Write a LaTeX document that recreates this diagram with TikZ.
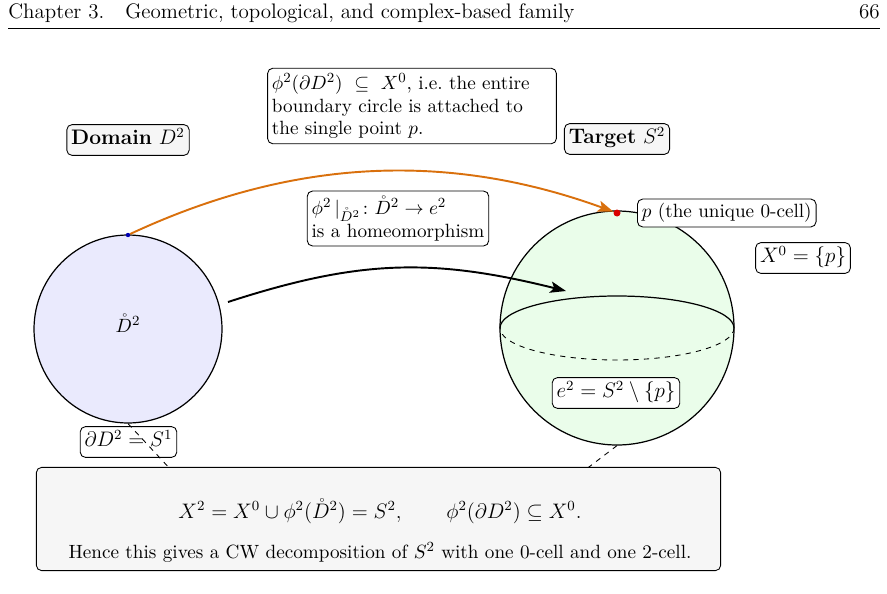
\documentclass[tikz,border=0pt]{standalone}
\usepackage{amsmath,amssymb}
\usetikzlibrary{arrows.meta,calc}
\definecolor{arcorange}{RGB}{217,112,13}
\definecolor{diskblue}{RGB}{234,234,253}
\definecolor{spheregreen}{RGB}{234,253,234}
\definecolor{boxgray}{RGB}{246,246,246}
\newcommand{\smallsz}{\fontsize{10.95}{12.9}\selectfont}
\newcommand{\bigsz}{\fontsize{12}{14.5}\selectfont}
\begin{document}
\begin{tikzpicture}[x=0.5714pt,y=-0.5714pt,
  lbl/.style={draw, rounded corners=3pt, fill=white, inner sep=2.5pt, line width=0.5pt, font=\smallsz},
  mlbl/.style={lbl, font=\bigsz, inner xsep=2.5pt, inner ysep=3pt, text height=8.6pt, text depth=3pt},
  ttl/.style={mlbl, fill=boxgray},
  shape outline/.style={draw, line width=0.7pt},
  tipstyle/.style={-{Stealth[length=9pt,width=6.5pt,inset=2pt]}},
  maparrow/.style={tipstyle, line width=1.1pt},
  attacharrow/.style={tipstyle, line width=1.1pt, draw=arcorange},
  leader/.style={dashed, line width=0.5pt}]
\useasboundingbox (0,0) rectangle (887,593);
% header
\node[anchor=base west, inner sep=0, font=\bigsz] (hdr) at (8,19) {Chapter 3.\quad Geometric, topological, and complex-based family};
\node[anchor=base east, inner sep=0, font=\bigsz] (pg) at (880,19) {66};
\draw[line width=0.4pt] (8,28) -- (880,28);
% disk
\node[circle, shape outline, fill=diskblue, minimum size=107.4pt, inner sep=0] (disk) at (128,329) {};
\node[font=\smallsz] (dint) at (128,323) {$\mathring{D}^2$};
\node[circle, fill=blue!70!black, minimum size=2.5pt, inner sep=0] (d0) at (128,235) {};
% sphere
\node[circle, shape outline, fill=spheregreen, minimum size=133.7pt, inner sep=0] (sph) at (617,328) {};
\draw[line width=0.7pt] (500,328) arc[start angle=180, end angle=360, x radius=117, y radius=32];
\draw[line width=0.5pt, dashed] (734,328) arc[start angle=0, end angle=180, x radius=117, y radius=32];
\node[circle, fill=red!85!black, minimum size=4pt, inner sep=0] (p) at (617,213) {};
% labels
\node[lbl, anchor=west] (plbl) at (637,213) {$p$ (the unique 0-cell)};
\node[mlbl] (x0) at (803,258) {$X^0=\{p\}$};
\node[mlbl] (e2) at (616,393) {$e^2=S^2\setminus\{p\}$};
\node[ttl] (dom) at (128,140) {\textbf{Domain} $D^2$};
\node[ttl] (tgt) at (617,139) {\textbf{Target} $S^2$};
\node[lbl, align=left, text width=160pt, inner ysep=3pt] (note1) at (412,106) {$\phi^2(\partial D^2)\ \subseteq\ X^0$, i.e.\ the entire\\boundary circle is attached to\\the single point $p$.};
\node[lbl, align=left, inner ysep=3pt] (note2) at (398,218.5) {$\phi^2\,|_{\mathring{D}^2}\colon \mathring{D}^2\to e^2$\\is a homeomorphism};
\node[mlbl] (bd) at (128.5,442) {$\partial D^2=S^1$};
% arrows
\coordinate (bs) at (228,302);
\coordinate (be) at (566,291);
\draw[maparrow] (bs) to[out=18,in=166,looseness=1.04] (be);
\draw[attacharrow] (d0) to[out=25,in=160,looseness=0.94] (p);
% leaders
\coordinate (c1) at (173,472);
\coordinate (c2) at (585,470);
\draw[leader] (disk.south) -- (c1);
\draw[leader] (sph.south) -- (c2);
% summary
\node[draw, rounded corners=3pt, line width=0.5pt, fill=boxgray, minimum width=391pt, minimum height=59pt] (sum) at (378.5,519) {};
\node[font=\fontsize{11.8}{14}\selectfont] (eq) at (380,511) {$X^2=X^0\cup\phi^2(\mathring{D}^2)=S^2,\qquad \phi^2(\partial D^2)\subseteq X^0.$};
\node[font=\smallsz] (hence) at (380,552) {Hence this gives a CW decomposition of $S^2$ with one 0-cell and one 2-cell.};
\end{tikzpicture}
\end{document}
